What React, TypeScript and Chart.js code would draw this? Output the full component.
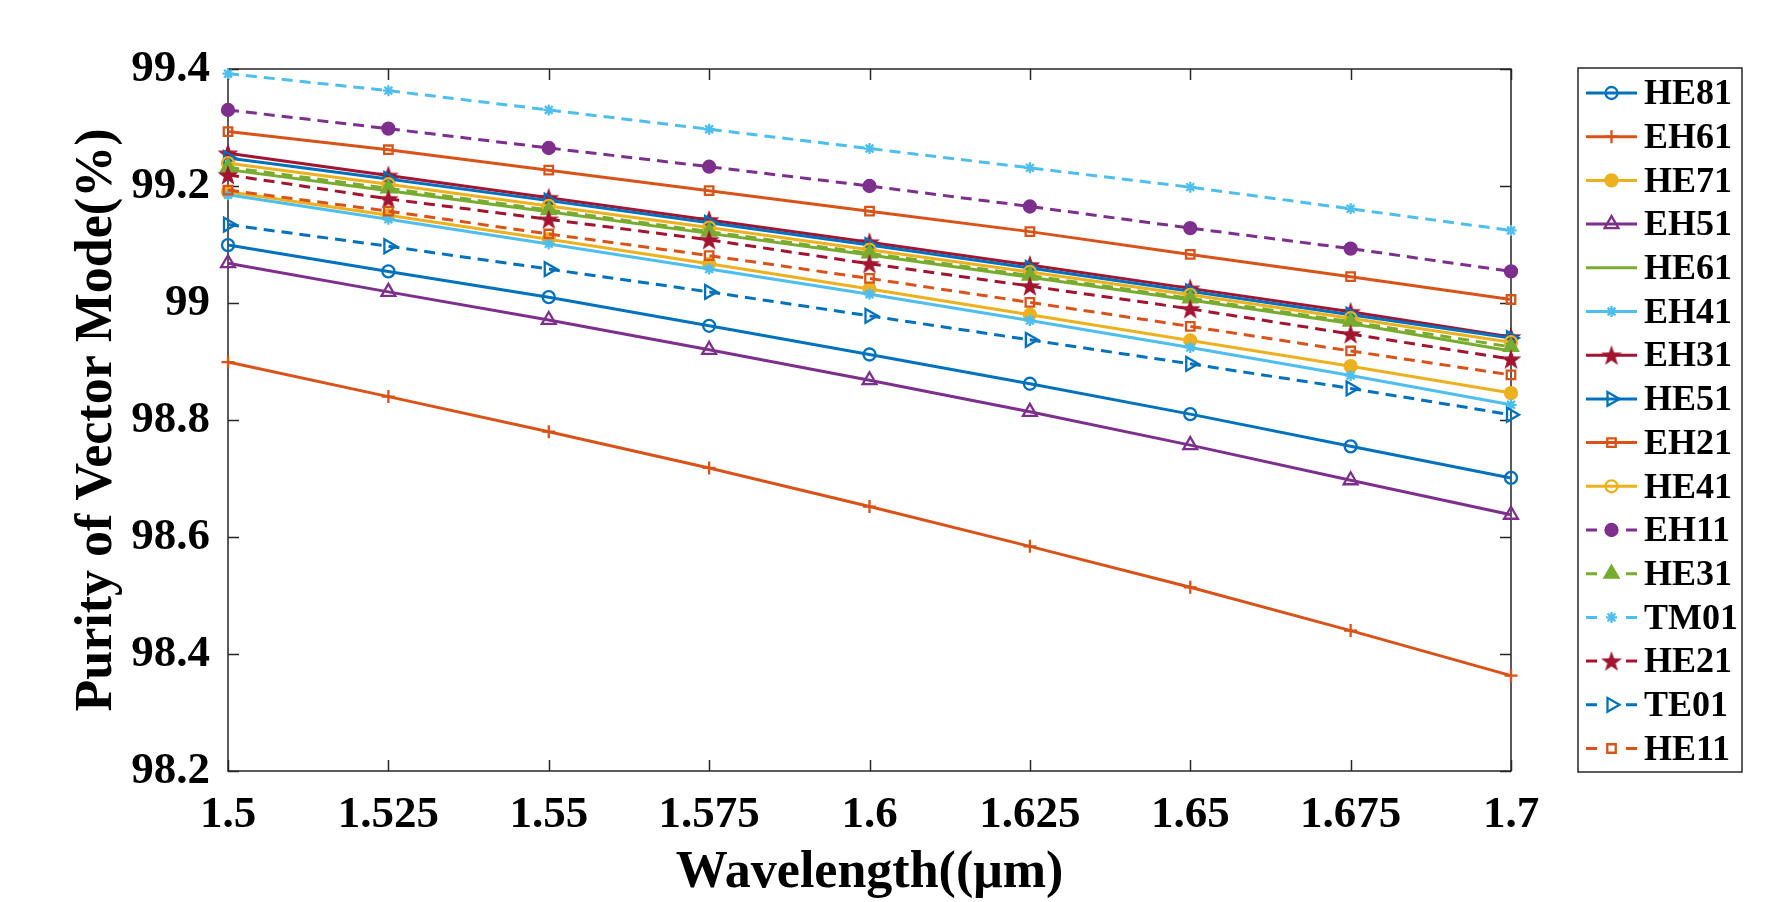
import React, { useEffect, useRef } from "react";
import { Chart, registerables } from "chart.js";
import { drawPoint } from "chart.js/helpers";

Chart.register(...registerables);

const wavelengths = [1.5, 1.525, 1.55, 1.575, 1.6, 1.625, 1.65, 1.675, 1.7];
const xTickLabels = ["1.5", "1.525", "1.55", "1.575", "1.6", "1.625", "1.65", "1.675", "1.7"];
const yTicks = [98.2, 98.4, 98.6, 98.8, 99, 99.2, 99.4];
const yTickLabels = ["98.2", "98.4", "98.6", "98.8", "99", "99.2", "99.4"];

const seriesNames = ["HE81", "EH61", "HE71", "EH51", "HE61", "EH41", "EH31", "HE51", "EH21", "HE41", "EH11", "HE31", "TM01", "HE21", "TE01", "HE11"];

const he81 = [99.099, 99.054, 99.01, 98.961, 98.912, 98.862, 98.81, 98.755, 98.701];
const eh61 = [98.899, 98.84, 98.78, 98.718, 98.652, 98.584, 98.514, 98.44, 98.363];
const he71 = [99.19, 99.15, 99.109, 99.067, 99.024, 98.98, 98.936, 98.892, 98.846];
const eh51 = [99.068, 99.019, 98.971, 98.92, 98.868, 98.814, 98.757, 98.697, 98.638];
const he61 = [99.228, 99.192, 99.156, 99.119, 99.082, 99.044, 99.005, 98.965, 98.918];
const eh41 = [99.185, 99.143, 99.101, 99.058, 99.015, 98.97, 98.924, 98.876, 98.826];
const eh31 = [99.256, 99.218, 99.18, 99.142, 99.104, 99.065, 99.025, 98.985, 98.942];
const he51 = [99.248, 99.212, 99.175, 99.137, 99.099, 99.06, 99.02, 98.98, 98.94];
const eh21 = [99.293, 99.262, 99.227, 99.192, 99.157, 99.122, 99.083, 99.045, 99.006];
const he41 = [99.239, 99.203, 99.166, 99.129, 99.091, 99.053, 99.014, 98.974, 98.933];
const eh11 = [99.33, 99.298, 99.265, 99.233, 99.2, 99.165, 99.128, 99.093, 99.054];
const he31 = [99.232, 99.196, 99.159, 99.122, 99.085, 99.047, 99.008, 98.968, 98.925];
const tm01 = [99.392, 99.363, 99.33, 99.297, 99.264, 99.231, 99.198, 99.161, 99.124];
const he21 = [99.219, 99.178, 99.143, 99.108, 99.067, 99.029, 98.99, 98.947, 98.904];
const te01 = [99.134, 99.097, 99.058, 99.019, 98.978, 98.937, 98.896, 98.854, 98.809];
const he11 = [99.193, 99.157, 99.118, 99.081, 99.042, 99.001, 98.96, 98.918, 98.877];

const seriesValues = [he81, eh61, he71, eh51, he61, eh41, eh31, he51, eh21, he41, eh11, he31, tm01, he21, te01, he11];

const BLUE = "#0072BD";
const ORANGE = "#D95319";
const YELLOW = "#EDB120";
const PURPLE = "#7E2F8E";
const GREEN = "#77AC30";
const LBLUE = "#4DBEEE";
const DRED = "#A2142F";

// color, dashed, marker, filled
const seriesStyles: [string, boolean, string, boolean][] = [
  [BLUE, false, "circle", false],
  [ORANGE, false, "cross", false],
  [YELLOW, false, "circle", true],
  [PURPLE, false, "triangle", false],
  [GREEN, false, "none", false],
  [LBLUE, false, "star", false],
  [DRED, false, "pentagram", true],
  [BLUE, false, "rtriangle", false],
  [ORANGE, false, "rect", false],
  [YELLOW, false, "circle", false],
  [PURPLE, true, "circle", true],
  [GREEN, true, "triangle", true],
  [LBLUE, true, "star", false],
  [DRED, true, "pentagram", true],
  [BLUE, true, "rtriangle", false],
  [ORANGE, true, "rect", false],
];

const FONT = "'Liberation Serif', 'Times New Roman', serif";
const AXIS_COLOR = "#262626";

function makePentagram(color: string, size: number) {
  const c = document.createElement("canvas");
  c.width = size;
  c.height = size;
  const g = c.getContext("2d")!;
  const cx = size / 2, cy = size / 2 + size * 0.04;
  const R = size / 2, r = R * 0.4;
  g.beginPath();
  for (let i = 0; i < 10; i++) {
    const ang = -Math.PI / 2 + (i * Math.PI) / 5;
    const rad = i % 2 === 0 ? R : r;
    const x = cx + rad * Math.cos(ang);
    const y = cy + rad * Math.sin(ang);
    if (i === 0) g.moveTo(x, y);
    else g.lineTo(x, y);
  }
  g.closePath();
  g.fillStyle = color;
  g.fill();
  return c;
}

function markerOpts(marker: string, star: HTMLCanvasElement | null) {
  switch (marker) {
    case "circle":
      return { pointStyle: "circle", rotation: 0, radius: 6 };
    case "cross":
      return { pointStyle: "cross", rotation: 0, radius: 6.5 };
    case "triangle":
      return { pointStyle: "triangle", rotation: 0, radius: 8 };
    case "rtriangle":
      return { pointStyle: "triangle", rotation: 90, radius: 8 };
    case "star":
      return { pointStyle: "star", rotation: 0, radius: 5.5 };
    case "rect":
      return { pointStyle: "rect", rotation: 0, radius: 6 };
    case "pentagram":
      return { pointStyle: star, rotation: 0, radius: 10 };
    default:
      return { pointStyle: false, rotation: 0, radius: 0 };
  }
}

export default function App() {
  const ref = useRef<HTMLCanvasElement | null>(null);

  useEffect(() => {
    document.body.style.margin = "0";
    const canvas = ref.current!;
    const star = makePentagram(DRED, 22);

    const datasets = seriesNames.map((name, i) => {
      const [color, dashed, marker, filled] = seriesStyles[i];
      const m = markerOpts(marker, star);
      return {
        label: name,
        data: seriesValues[i].map((v, k) => ({ x: wavelengths[k], y: v })),
        borderColor: color,
        backgroundColor: color,
        borderWidth: 3,
        borderDash: dashed ? [11, 7] : [],
        pointStyle: m.pointStyle as any,
        pointRotation: m.rotation,
        pointRadius: m.radius,
        pointBorderWidth: 2.3,
        pointBorderColor: color,
        pointBackgroundColor: filled ? color : "rgba(0,0,0,0)",
        tension: 0,
        clip: false as any,
        order: 20 - i,
      };
    });

    const framePlugin = {
      id: "frame",
      beforeDatasetsDraw(chart: any) {
        const { ctx, chartArea: a, scales } = chart;
        ctx.save();
        ctx.strokeStyle = AXIS_COLOR;
        ctx.lineWidth = 1.5;
        ctx.strokeRect(a.left, a.top, a.right - a.left, a.bottom - a.top);
        const tl = 11;
        ctx.beginPath();
        for (const v of wavelengths) {
          const x = Math.round(scales.x.getPixelForValue(v)) + 0.5;
          ctx.moveTo(x, a.bottom);
          ctx.lineTo(x, a.bottom - tl);
          ctx.moveTo(x, a.top);
          ctx.lineTo(x, a.top + tl);
        }
        for (const v of yTicks) {
          const y = Math.round(scales.y.getPixelForValue(v)) + 0.5;
          ctx.moveTo(a.left, y);
          ctx.lineTo(a.left + tl, y);
          ctx.moveTo(a.right, y);
          ctx.lineTo(a.right - tl, y);
        }
        ctx.stroke();
        ctx.restore();
      },
    };

    const legendPlugin = {
      id: "matlabLegend",
      afterDraw(chart: any) {
        const { ctx } = chart;
        ctx.save();
        const bx = 1578, by = 68, bw = 164, bh = 704;
        ctx.fillStyle = "#fff";
        ctx.fillRect(bx, by, bw, bh);
        ctx.strokeStyle = AXIS_COLOR;
        ctx.lineWidth = 1.5;
        ctx.strokeRect(bx, by, bw, bh);
        const x0 = 1586, x1 = 1637;
        chart.data.datasets.forEach((ds: any, i: number) => {
          const y = 93 + i * 43.7;
          ctx.strokeStyle = ds.borderColor;
          ctx.lineWidth = ds.borderWidth;
          ctx.beginPath();
          if (ds.borderDash.length) {
            ctx.moveTo(x0, y);
            ctx.lineTo(x0 + 11, y);
            ctx.moveTo(x1 - 11, y);
            ctx.lineTo(x1, y);
          } else {
            ctx.moveTo(x0, y);
            ctx.lineTo(x1, y);
          }
          ctx.stroke();
          if (ds.pointStyle) {
            ctx.strokeStyle = ds.pointBorderColor;
            ctx.fillStyle = ds.pointBackgroundColor;
            ctx.lineWidth = ds.pointBorderWidth;
            drawPoint(ctx, {
              pointStyle: ds.pointStyle,
              rotation: ds.pointRotation,
              radius: ds.pointRadius,
              borderWidth: ds.pointBorderWidth,
            } as any, (x0 + x1) / 2, y);
          }
          ctx.fillStyle = "#000";
          ctx.font = `bold 36px ${FONT}`;
          ctx.textBaseline = "middle";
          ctx.textAlign = "left";
          ctx.fillText(ds.label, 1644, y + 2);
        });
        ctx.restore();
      },
    };

    const chart = new Chart(canvas, {
      type: "line",
      data: { datasets: datasets as any },
      options: {
        responsive: false,
        animation: false,
        layout: { padding: { top: 69, right: 269, left: 0, bottom: 0 } },
        plugins: {
          legend: { display: false },
          tooltip: { enabled: false },
        },
        scales: {
          x: {
            type: "linear",
            min: 1.5,
            max: 1.7,
            afterBuildTicks: (scale: any) => {
              scale.ticks = wavelengths.map((v) => ({ value: v }));
            },
            afterFit: (scale: any) => {
              scale.height = 131;
            },
            grid: { display: false, drawTicks: false },
            border: { display: false },
            ticks: {
              autoSkip: false,
              maxRotation: 0,
              padding: 17,
              color: "#000",
              font: { family: FONT, size: 45, weight: "bold" },
              callback: (_v: any, idx: number) => xTickLabels[idx],
            },
            title: {
              display: true,
              text: "Wavelength((μm)",
              color: "#000",
              font: { family: FONT, size: 52, weight: "bold" },
              padding: { top: 0, bottom: -3 },
            },
          },
          y: {
            type: "linear",
            min: 98.2,
            max: 99.4,
            afterBuildTicks: (scale: any) => {
              scale.ticks = yTicks.map((v) => ({ value: v }));
            },
            afterFit: (scale: any) => {
              scale.width = 228;
            },
            grid: { display: false, drawTicks: false },
            border: { display: false },
            ticks: {
              autoSkip: false,
              padding: 18,
              color: "#000",
              font: { family: FONT, size: 45, weight: "bold" },
              callback: (_v: any, idx: number) => yTickLabels[idx],
            },
            title: {
              display: true,
              text: "Purity of Vector Mode(%)",
              color: "#000",
              font: { family: FONT, size: 52, weight: "bold" },
              padding: { top: 66, bottom: 0 },
            },
          },
        },
      },
      plugins: [framePlugin, legendPlugin],
    });

    return () => chart.destroy();
  }, []);

  return (
    <div style={{ width: 1780, height: 902, background: "#fff" }}>
      <canvas ref={ref} width={1780} height={902} style={{ display: "block" }} />
    </div>
  );
}
